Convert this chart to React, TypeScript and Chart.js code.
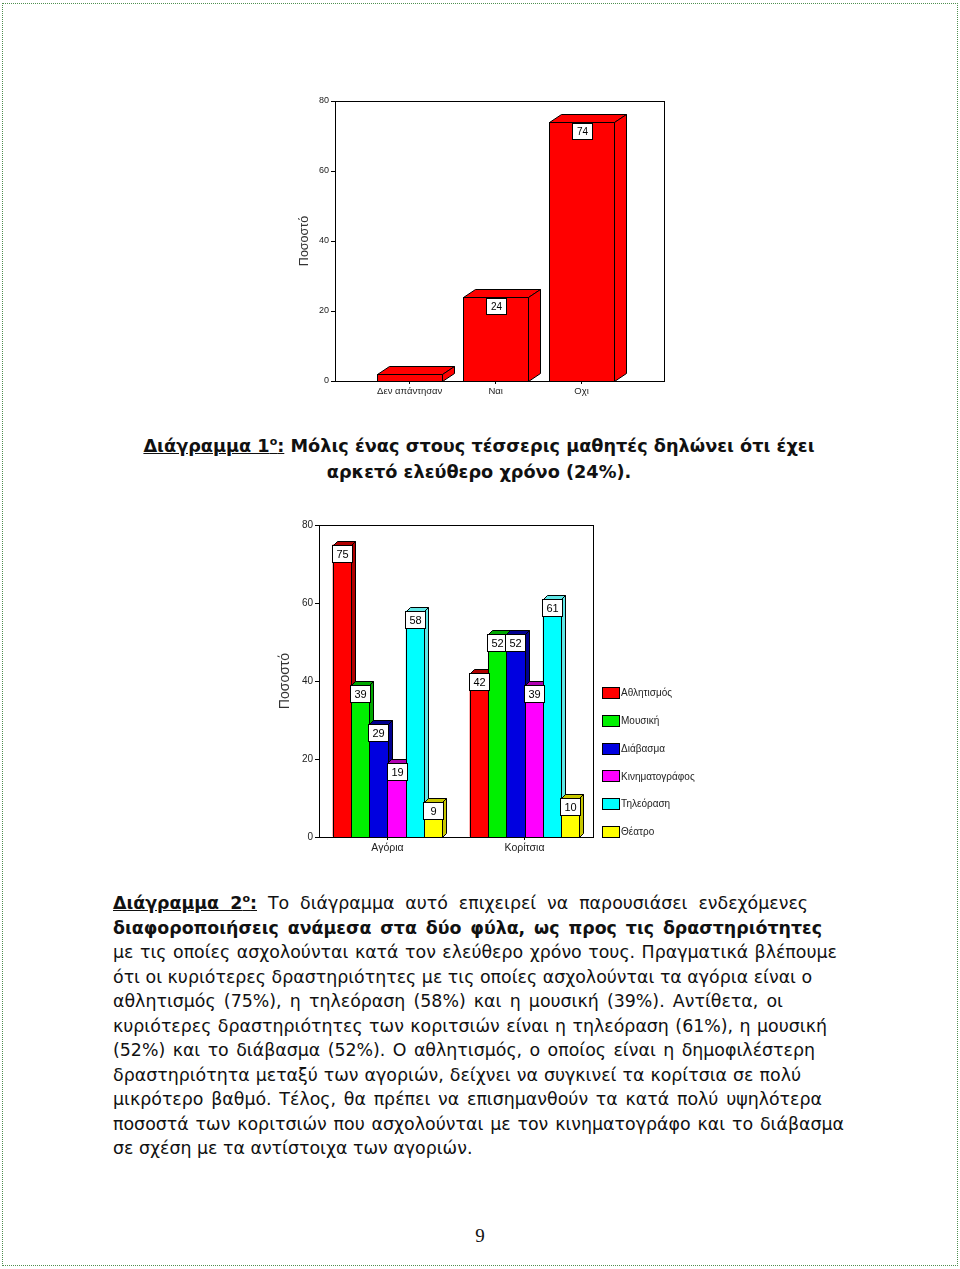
import React, { useEffect, useRef } from 'react';
import { Chart, registerables } from 'chart.js';

Chart.register(...registerables);

// ---------- Chart 1 data ----------
const chart1Categories = ['Δεν απάντησαν', 'Ναι', 'Οχι'];
const chart1Values = [2, 24, 74];
const percentTicks = [0, 20, 40, 60, 80];

// ---------- Chart 2 data ----------
const chart2Groups = ['Αγόρια', 'Κορίτσια'];
const chart2Activities = ['Αθλητισμός', 'Μουσική', 'Διάβασμα', 'Κινηματογράφος', 'Τηλεόραση', 'Θέατρο'];
const sportValues = [75, 42];
const musicValues = [39, 52];
const readingValues = [29, 52];
const cinemaValues = [19, 39];
const tvValues = [58, 61];
const theatreValues = [9, 10];
const chart2Series = [sportValues, musicValues, readingValues, cinemaValues, tvValues, theatreValues];
const activityColors = ['#ff0000', '#00f000', '#0000e0', '#ff00ff', '#00ffff', '#ffff00'];
const activityDepthColors = ['#b00000', '#00a800', '#000090', '#b000b0', '#60e8e8', '#c8c800'];

const AXIS_FONT = '"Liberation Sans", Arial, sans-serif';

// ---------- Plugins ----------
const frame = {
  id: 'frame',
  afterDraw(chart: any) {
    const { ctx, chartArea: a } = chart;
    ctx.save();
    ctx.strokeStyle = '#000';
    ctx.lineWidth = 1;
    ctx.strokeRect(Math.round(a.left) + 0.5, Math.round(a.top) + 0.5, Math.round(a.right - a.left), Math.round(a.bottom - a.top));
    ctx.restore();
  },
};

const bars3d = {
  id: 'bars3d',
  afterDatasetsDraw(chart: any, _args: any, opts: any) {
    const ctx = chart.ctx;
    const dx = opts.dx || 0;
    const dy = opts.dy || 0;
    const items: any[] = [];
    chart.data.datasets.forEach((ds: any, di: number) => {
      const meta = chart.getDatasetMeta(di);
      meta.data.forEach((el: any, i: number) => {
        const p = el.getProps(['x', 'y', 'base', 'width'], true);
        const raw = ds.data[i];
        const value = typeof raw === 'object' ? raw.y : raw;
        items.push({
          l: Math.round(p.x - p.width / 2) + 0.5,
          r: Math.round(p.x + p.width / 2) + 0.5,
          cx: p.x,
          t: Math.round(p.y) + 0.5,
          b: Math.round(p.base) + 0.5,
          fill: ds.backgroundColor,
          depth: ds.depthColor || ds.backgroundColor,
          value,
        });
      });
    });
    items.sort((a, b) => a.l - b.l);
    ctx.save();
    ctx.lineWidth = 1;
    ctx.strokeStyle = '#000';
    ctx.lineJoin = 'miter';
    for (const it of items) {
      const { l, r, t, b } = it;
      ctx.fillStyle = it.fill;
      ctx.fillRect(l, t, r - l, b - t);
      ctx.strokeRect(l, t, r - l, b - t);
      ctx.beginPath();
      ctx.moveTo(l, t);
      ctx.lineTo(l + dx, t - dy);
      ctx.lineTo(r + dx, t - dy);
      ctx.lineTo(r, t);
      ctx.closePath();
      ctx.fillStyle = it.depth;
      ctx.fill();
      ctx.stroke();
      ctx.beginPath();
      ctx.moveTo(r, t);
      ctx.lineTo(r + dx, t - dy);
      ctx.lineTo(r + dx, b - dy);
      ctx.lineTo(r, b);
      ctx.closePath();
      ctx.fill();
      ctx.stroke();
    }
    ctx.font = `${opts.labelSize || 10}px ${AXIS_FONT}`;
    ctx.textAlign = 'center';
    ctx.textBaseline = 'middle';
    const bw = opts.boxW || 20;
    const bh = opts.boxH || 16;
    for (const it of items) {
      if (it.value < (opts.minLabel || 0)) continue;
      const x0 = Math.round(it.cx - bw / 2) + 0.5;
      const y0 = it.t + (opts.boxOffset || 0);
      ctx.fillStyle = '#fff';
      ctx.fillRect(x0, y0, bw, bh);
      ctx.strokeStyle = '#000';
      ctx.strokeRect(x0, y0, bw, bh);
      ctx.fillStyle = '#000';
      ctx.fillText(String(it.value), x0 + bw / 2, y0 + bh / 2 + 0.5);
    }
    ctx.restore();
  },
};

const sideLegend = {
  id: 'sideLegend',
  afterDraw(chart: any, _args: any, opts: any) {
    if (!opts || !opts.show) return;
    const ctx = chart.ctx;
    ctx.save();
    ctx.font = `${opts.size}px ${AXIS_FONT}`;
    ctx.textBaseline = 'middle';
    ctx.textAlign = 'left';
    chart.data.datasets.forEach((ds: any, i: number) => {
      const cy = opts.y0 + i * opts.step;
      const x = opts.x;
      ctx.fillStyle = ds.backgroundColor;
      ctx.fillRect(x, Math.round(cy - opts.boxH / 2), opts.boxW, opts.boxH);
      ctx.strokeStyle = '#000';
      ctx.lineWidth = 1;
      ctx.strokeRect(x + 0.5, Math.round(cy - opts.boxH / 2) + 0.5, opts.boxW - 1, opts.boxH - 1);
      ctx.fillStyle = '#222';
      ctx.fillText(ds.label, x + opts.boxW + 1, cy + 0.5);
    });
    ctx.restore();
  },
};

function yAxis(width: number, titleSize: number, titlePad: number, tickSize: number) {
  return {
    min: 0,
    max: 80,
    afterBuildTicks: (s: any) => {
      s.ticks = percentTicks.map((v) => ({ value: v }));
    },
    afterFit: (s: any) => {
      s.width = width;
    },
    ticks: { font: { family: AXIS_FONT, size: tickSize }, color: '#222', padding: 2 },
    grid: { drawOnChartArea: false, drawTicks: true, tickLength: 4, color: '#000' },
    border: { display: true, color: '#000' },
    title: {
      display: true,
      text: 'Ποσοστό',
      color: '#333',
      font: { family: AXIS_FONT, size: titleSize },
      padding: { top: titlePad, bottom: 0 },
    },
  };
}

function chart1Config(): any {
  return {
    type: 'bar',
    data: {
      datasets: [
        {
          label: 'Ποσοστό',
          data: chart1Values.map((v, i) => ({ x: i, y: v })),
          backgroundColor: '#ff0000',
          depthColor: '#ff0000',
          borderWidth: 0,
          barPercentage: 0.94,
          categoryPercentage: 0.8,
        },
      ],
    },
    options: {
      responsive: false,
      animation: false,
      devicePixelRatio: 1,
      layout: { padding: { left: 0, right: 16, top: 16, bottom: 0 } },
      scales: {
        x: {
          type: 'linear',
          min: -0.87,
          max: 2.96,
          offset: false,
          afterBuildTicks: (s: any) => {
            s.ticks = chart1Categories.map((_, i) => ({ value: i }));
          },
          afterFit: (s: any) => {
            s.height = 24;
          },
          ticks: {
            callback: (v: any) => chart1Categories[v] ?? '',
            font: { family: AXIS_FONT, size: 9.5 },
            color: '#222',
            padding: 2,
            maxRotation: 0,
            autoSkip: false,
          },
          grid: { offset: false, drawOnChartArea: false, tickLength: 3, color: '#000' },
          border: { display: true, color: '#000' },
        },
        y: yAxis(55, 12.5, 17, 9),
      },
      plugins: {
        legend: { display: false },
        tooltip: { enabled: false },
        bars3d: { dx: 12, dy: 8, boxW: 20, boxH: 16, boxOffset: 1, labelSize: 10, minLabel: 5 },
        sideLegend: { show: false },
      },
    },
    plugins: [frame, bars3d, sideLegend],
  };
}

function chart2Config(): any {
  return {
    type: 'bar',
    data: {
      labels: chart2Groups,
      datasets: chart2Activities.map((label, i) => ({
        label,
        data: chart2Series[i],
        backgroundColor: activityColors[i],
        depthColor: activityDepthColors[i],
        borderWidth: 0,
        barPercentage: 1.0,
        categoryPercentage: 0.8,
      })),
    },
    options: {
      responsive: false,
      animation: false,
      devicePixelRatio: 1,
      layout: { padding: { left: 0, right: 122, top: 15, bottom: 0 } },
      scales: {
        x: {
          offset: true,
          afterFit: (s: any) => {
            s.height = 23;
          },
          ticks: { font: { family: AXIS_FONT, size: 10.5 }, color: '#222', padding: 2, maxRotation: 0 },
          grid: { offset: false, drawOnChartArea: false, tickLength: 3, color: '#000' },
          border: { display: true, color: '#000' },
        },
        y: yAxis(54, 14, 12, 10),
      },
      plugins: {
        legend: { display: false },
        tooltip: { enabled: false },
        bars3d: { dx: 4, dy: 4, boxW: 20, boxH: 17, boxOffset: 0, labelSize: 11, minLabel: 0 },
        sideLegend: { show: true, x: 337, y0: 183, step: 27.75, boxW: 18, boxH: 12, size: 10 },
      },
    },
    plugins: [frame, bars3d, sideLegend],
  };
}

function ChartBox({ left, top, width, height, make }: any) {
  const ref = useRef<HTMLCanvasElement | null>(null);
  useEffect(() => {
    if (!ref.current) return;
    const c = new Chart(ref.current, make());
    return () => c.destroy();
  }, []);
  return (
    <div style={{ position: 'absolute', left, top, width, height }}>
      <canvas ref={ref} width={width} height={height} style={{ display: 'block', width, height }} />
    </div>
  );
}

const TEXT_FONT = '"DejaVu Sans", Verdana, sans-serif';
const supStyle: React.CSSProperties = { fontSize: '11px', verticalAlign: 'super', lineHeight: 0 };

const paragraphLines: { node: React.ReactNode; right: number | null }[] = [
  {
    node: (
      <>
        <b>
          <u>
            Διάγραμμα 2<sup style={supStyle}>ο</sup>:
          </u>
        </b>{' '}
        Το διάγραμμα αυτό επιχειρεί να παρουσιάσει ενδεχόμενες
      </>
    ),
    right: 808,
  },
  { node: <b>διαφοροποιήσεις ανάμεσα στα δύο φύλα, ως προς τις δραστηριότητες</b>, right: 822 },
  { node: 'με τις οποίες ασχολούνται κατά τον ελεύθερο χρόνο τους. Πραγματικά βλέπουμε', right: 837 },
  { node: 'ότι οι κυριότερες δραστηριότητες με τις οποίες ασχολούνται τα αγόρια είναι ο', right: 808 },
  { node: 'αθλητισμός (75%), η τηλεόραση (58%) και η μουσική (39%). Αντίθετα, οι', right: 783 },
  { node: 'κυριότερες δραστηριότητες των κοριτσιών είναι η τηλεόραση (61%), η μουσική', right: 827 },
  { node: '(52%) και το διάβασμα (52%). Ο αθλητισμός, ο οποίος είναι η δημοφιλέστερη', right: 815 },
  { node: 'δραστηριότητα μεταξύ των αγοριών, δείχνει να συγκινεί τα κορίτσια σε πολύ', right: 801 },
  { node: 'μικρότερο βαθμό. Τέλος, θα πρέπει να επισημανθούν τα κατά πολύ υψηλότερα', right: 822 },
  { node: 'ποσοστά των κοριτσιών που ασχολούνται με τον κινηματογράφο και το διάβασμα', right: 844 },
  { node: 'σε σχέση με τα αντίστοιχα των αγοριών.', right: null },
];

export default function App() {
  const paraLeft = 113;
  return (
    <div style={{ position: 'absolute', left: 0, top: 0, width: 960, height: 1269, background: '#fff', overflow: 'hidden' }}>
      <div
        style={{
          position: 'absolute',
          left: 2,
          top: 3,
          width: 954,
          height: 1261,
          border: '1px dotted #4f8f4f',
        }}
      />
      <ChartBox left={280} top={85} width={400} height={320} make={chart1Config} />
      <div
        style={{
          position: 'absolute',
          left: 0,
          top: 433,
          width: 958,
          textAlign: 'center',
          fontFamily: TEXT_FONT,
          fontWeight: 'bold',
          fontSize: '17.7px',
          lineHeight: '26px',
          color: '#111',
          whiteSpace: 'nowrap',
        }}
      >
        <div>
          <u>
            Διάγραμμα 1<sup style={supStyle}>ο</sup>:
          </u>{' '}
          Μόλις ένας στους τέσσερις μαθητές δηλώνει ότι έχει
        </div>
        <div>αρκετό ελεύθερο χρόνο (24%).</div>
      </div>
      <ChartBox left={265} top={510} width={450} height={350} make={chart2Config} />
      {paragraphLines.map((ln, i) => (
        <div
          key={i}
          style={{
            position: 'absolute',
            left: paraLeft,
            top: 903 + 24.5 * i - 12,
            width: ln.right ? ln.right - paraLeft : 700,
            height: 24,
            lineHeight: '24px',
            fontFamily: TEXT_FONT,
            fontSize: '17.4px',
            color: '#111',
            textAlign: ln.right ? 'justify' : 'left',
            textAlignLast: ln.right ? 'justify' : 'left',
            whiteSpace: 'nowrap',
          }}
        >
          {ln.node}
        </div>
      ))}
      <div
        style={{
          position: 'absolute',
          left: 0,
          width: 960,
          top: 1224,
          textAlign: 'center',
          fontFamily: '"Liberation Serif", "Times New Roman", serif',
          fontSize: '19px',
          lineHeight: '24px',
          color: '#111',
        }}
      >
        9
      </div>
    </div>
  );
}
